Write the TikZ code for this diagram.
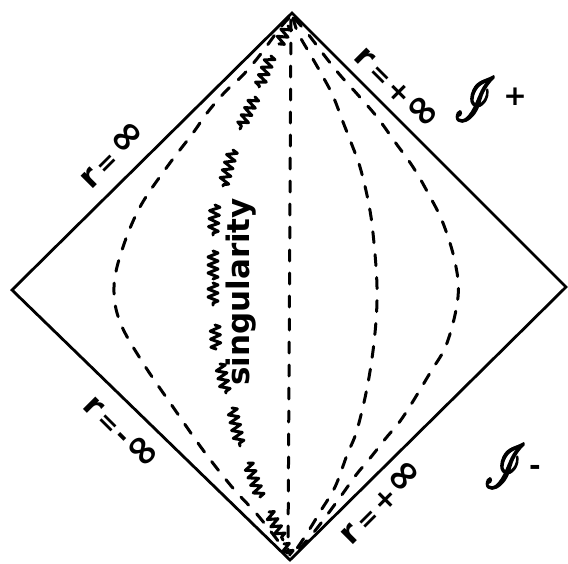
\documentclass[tikz,border=0pt]{standalone}
\usepackage{fontspec}
\setmainfont{DejaVu Sans}
\usepackage{mathrsfs}
\usepackage{graphicx}
\usetikzlibrary{decorations.pathmorphing}
\newcommand\lblr{{\fontsize{32}{32}\selectfont r}}
\newcommand\lbleq{{\fontsize{25}{25}\selectfont\,=\,}}
\newcommand\lblinf{{\fontsize{42}{42}\selectfont ∞}}
\newcommand\lblpm[1]{{\fontsize{28}{28}\selectfont #1}}
\newcommand\boldscri{\special{pdf:literal direct 2 Tr 0.35 w}$\mathscr{I}$\special{pdf:literal direct 0 Tr}}
\tikzset{
  edge/.style={line width=2.8pt, line join=miter},
  horizon/.style={line width=3pt, dash pattern=on 11pt off 12pt, line cap=round},
  squig/.style={line width=3pt, line join=round, line cap=round, decorate,
    decoration={zigzag, segment length=8pt, amplitude=5pt}},
  lab/.style={inner sep=0pt, font=\bfseries},
  scri/.style={inner sep=0pt},
}
\begin{document}
\begin{tikzpicture}[x=1pt,y=-1pt]
\useasboundingbox (0,0) rectangle (568,563);
% vertices
\coordinate (T) at (292,13);
\coordinate (R) at (566,287);
\coordinate (B) at (290,560);
\coordinate (L) at (12,290);
\draw[edge] (T) -- (R) -- (B) -- (L) -- cycle;
% dashed curves
\draw[horizon] (291,20) -- (288,553);
\draw[horizon] plot[smooth, tension=0.6] coordinates {(289,18) (280,28) (260,55) (243,75) (225,92) (207,113) (193,133) (167,167) (140,207) (122,250) (114,287) (120,322) (143,363) (173,407) (203,450) (232,487) (255,512) (272,533) (287,553)};
\draw[horizon] plot[smooth, tension=0.6] coordinates {(293,18) (298,33) (310,54) (322,75) (333,96) (343,122) (352,145) (360,167) (368,200) (373,233) (377,287) (375,333) (368,383) (357,430) (347,455) (335,487) (320,512) (306,535) (293,554)};
\draw[horizon] plot[smooth, tension=0.6] coordinates {(294,18) (308,34) (324,55) (340,75) (358,95) (377,117) (395,142) (413,167) (428,193) (443,223) (455,262) (458,297) (447,343) (430,373) (403,417) (386,438) (371,457) (356,475) (341,496) (318,527) (302,546) (294,554)};
% singularity squiggles
\draw[squig] (288,26) -- (279,44);
\draw[squig] (271,56) -- (259,87);
\draw[squig] (255,97) -- (240,129);
\draw[squig] (233,150) -- (223,186);
\draw[squig] (215,205) -- (213,235);
\draw[squig] (213,251) -- (213,279);
\draw[squig] (213,283) -- (213,305);
\draw[squig] (215,325) -- (216,349);
\draw[squig] (220,364) -- (226,393);
\draw[squig] (232,408) -- (240,446);
\draw[squig] (248,463) -- (260,497);
\draw[squig] (269,512) -- (283,540);
\draw[squig] (284,544) -- (290,555);
\node[lab, rotate=90, font=\bfseries\fontsize{31}{31}\selectfont, anchor=base] (sing) at (249,292) {singularity};
% labels
\node[lab, rotate=45] (rinfUL) at (112,155) {\lblr\lbleq\lblinf};
\node[lab, rotate=-45] (rinfLL) at (121,432) {\lblr\lbleq\lblpm{-}\lblinf};
\node[lab, rotate=-45] (rinfUR) at (397,88) {\lblr\lbleq\lblpm{+}\lblinf};
\node[lab, rotate=45] (rinfLR) at (381,502) {\lblr\lbleq\lblpm{+}\lblinf};
\node[scri] (scrip) at (475,99) {\scalebox{4.2}[6.2]{\boldscri}};
\node[lab] (scripsign) at (515,97) {\lblpm{+}};
\node[scri] (scrim) at (505,466) {\scalebox{4.2}[6.2]{\boldscri}};
\node[lab] (scrimsign) at (535,470) {\lblpm{-}};
\end{tikzpicture}
\end{document}
